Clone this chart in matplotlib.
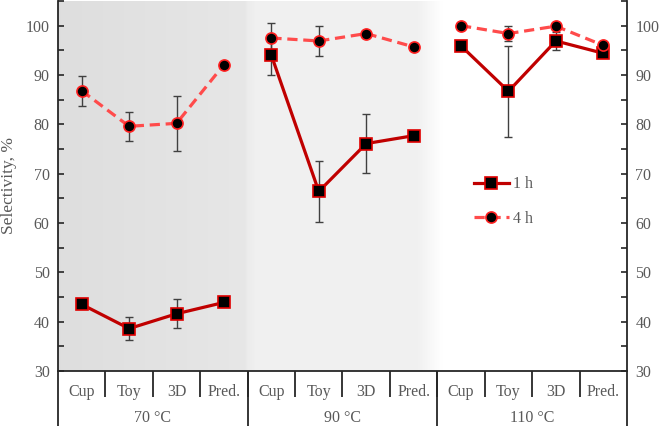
import numpy as np
import matplotlib
matplotlib.use("Agg")
import matplotlib.pyplot as plt
from matplotlib.ticker import MultipleLocator, FixedLocator, NullFormatter

categories = ["Cup", "Toy", "3D", "Pred."] * 3
groups = ["70 °C", "90 °C", "110 °C"]

sel_1h = [43.5, 38.6, 41.6, 43.9, 94.0, 66.4, 76.1, 77.7, 95.9, 86.7, 96.9, 94.4]
err_1h = [0.0, 2.3, 2.9, 0.0, 4.0, 6.1, 6.0, 0.0, 0.0, 9.2, 1.9, 0.0]
sel_4h = [86.8, 79.6, 80.2, 92.1, 97.5, 96.9, 98.4, 95.7, 100.0, 98.4, 99.9, 96.0]
err_4h = [3.0, 2.9, 5.6, 0.0, 3.0, 3.0, 0.0, 0.0, 0.0, 1.5, 0.0, 0.0]

TXT = "#595959"
AX = "#262626"
FS = 11.5
plt.rcParams['font.family'] = ['Liberation Serif', 'DejaVu Serif']

fig = plt.figure(figsize=(6.64, 4.26), dpi=100)
ax = fig.add_axes([58/664, 55/426, 569/664, 370/426])

x = np.arange(len(categories))
ax.set_xlim(-0.5, 11.5)
ax.set_ylim(30, 105)

# background gradient
gx = np.linspace(-0.5, 11.5, 1200)
stops_x = [-0.5, 3.45, 3.5, 3.7, 7.1, 7.6, 11.5]
stops_v = [0.87, 0.905, 0.925, 0.945, 0.945, 1.0, 1.0]
gv = np.interp(gx, stops_x, stops_v)
img = np.repeat(gv[None, :], 2, axis=0)
ax.imshow(np.dstack([img, img, img]), extent=(-0.5, 11.5, 30, 105),
          aspect='auto', zorder=0, interpolation='bilinear')

ekw = dict(ecolor="#404040", elinewidth=1.0, capsize=3, capthick=1.0)
for g in range(3):
    sl = slice(4 * g, 4 * g + 4)
    xs = x[sl]
    e1 = np.array(err_1h[sl]); e4 = np.array(err_4h[sl])
    ax.errorbar(xs, sel_1h[sl], yerr=np.where(e1 > 0, e1, np.nan), fmt='none', zorder=2, **ekw)
    ax.errorbar(xs, sel_4h[sl], yerr=np.where(e4 > 0, e4, np.nan), fmt='none', zorder=2, **ekw)
    ax.plot(xs, sel_1h[sl], color="#c00000", lw=2.3, marker='s', ms=8,
            mfc='black', mec='#e00000', mew=1.2, zorder=3,
            label="1 h" if g == 0 else None)
    ax.plot(xs, sel_4h[sl], color="#ff4b4b", lw=2.3, ls=(0, (3.2, 1.8)), marker='o', ms=8,
            mfc='black', mec='#ff2020', mew=1.2, zorder=4,
            label="4 h" if g == 0 else None)

ax.spines['top'].set_visible(False)
for s in ['left', 'right', 'bottom']:
    ax.spines[s].set_color(AX)
    ax.spines[s].set_linewidth(1.3)

ax.yaxis.set_minor_locator(MultipleLocator(5))
ax.set_yticks(np.arange(30, 101, 10))
ax.tick_params(axis='y', which='both', direction='in', length=4, width=1.2, color=AX,
               labelsize=FS, labelcolor=TXT, left=True, right=True, labelright=True, pad=6)
ax.set_ylabel("Selectivity, %", fontsize=12.5, color=TXT, labelpad=6)

# category ticks
ax.xaxis.set_major_locator(FixedLocator(np.arange(0.5, 11.5, 1.0)))
ax.xaxis.set_major_formatter(NullFormatter())
ax.set_xticks(x, categories, minor=True)
ax.tick_params(axis='x', which='major', direction='out', length=19, width=1.3, color=AX)
ax.tick_params(axis='x', which='minor', length=0, labelsize=FS, labelcolor=TXT, pad=9)

# group separators & labels
sec = ax.secondary_xaxis('bottom')
sec.spines['bottom'].set_visible(False)
sec.set_xticks([-0.5, 3.5, 7.5, 11.5])
sec.set_xticklabels([])
sec.tick_params(axis='x', which='major', direction='out', length=40, width=1.3, color=AX)
sec.set_xticks([1.5, 5.5, 9.5], groups, minor=True)
sec.tick_params(axis='x', which='minor', length=0, labelsize=FS, labelcolor=TXT, pad=28)

ax.legend(loc='upper left', bbox_to_anchor=(0.705, 0.565), frameon=False,
          fontsize=FS, labelcolor=TXT, handlelength=2.2, labelspacing=1.15,
          handletextpad=0.3)

fig.savefig("out.png", dpi=100)
